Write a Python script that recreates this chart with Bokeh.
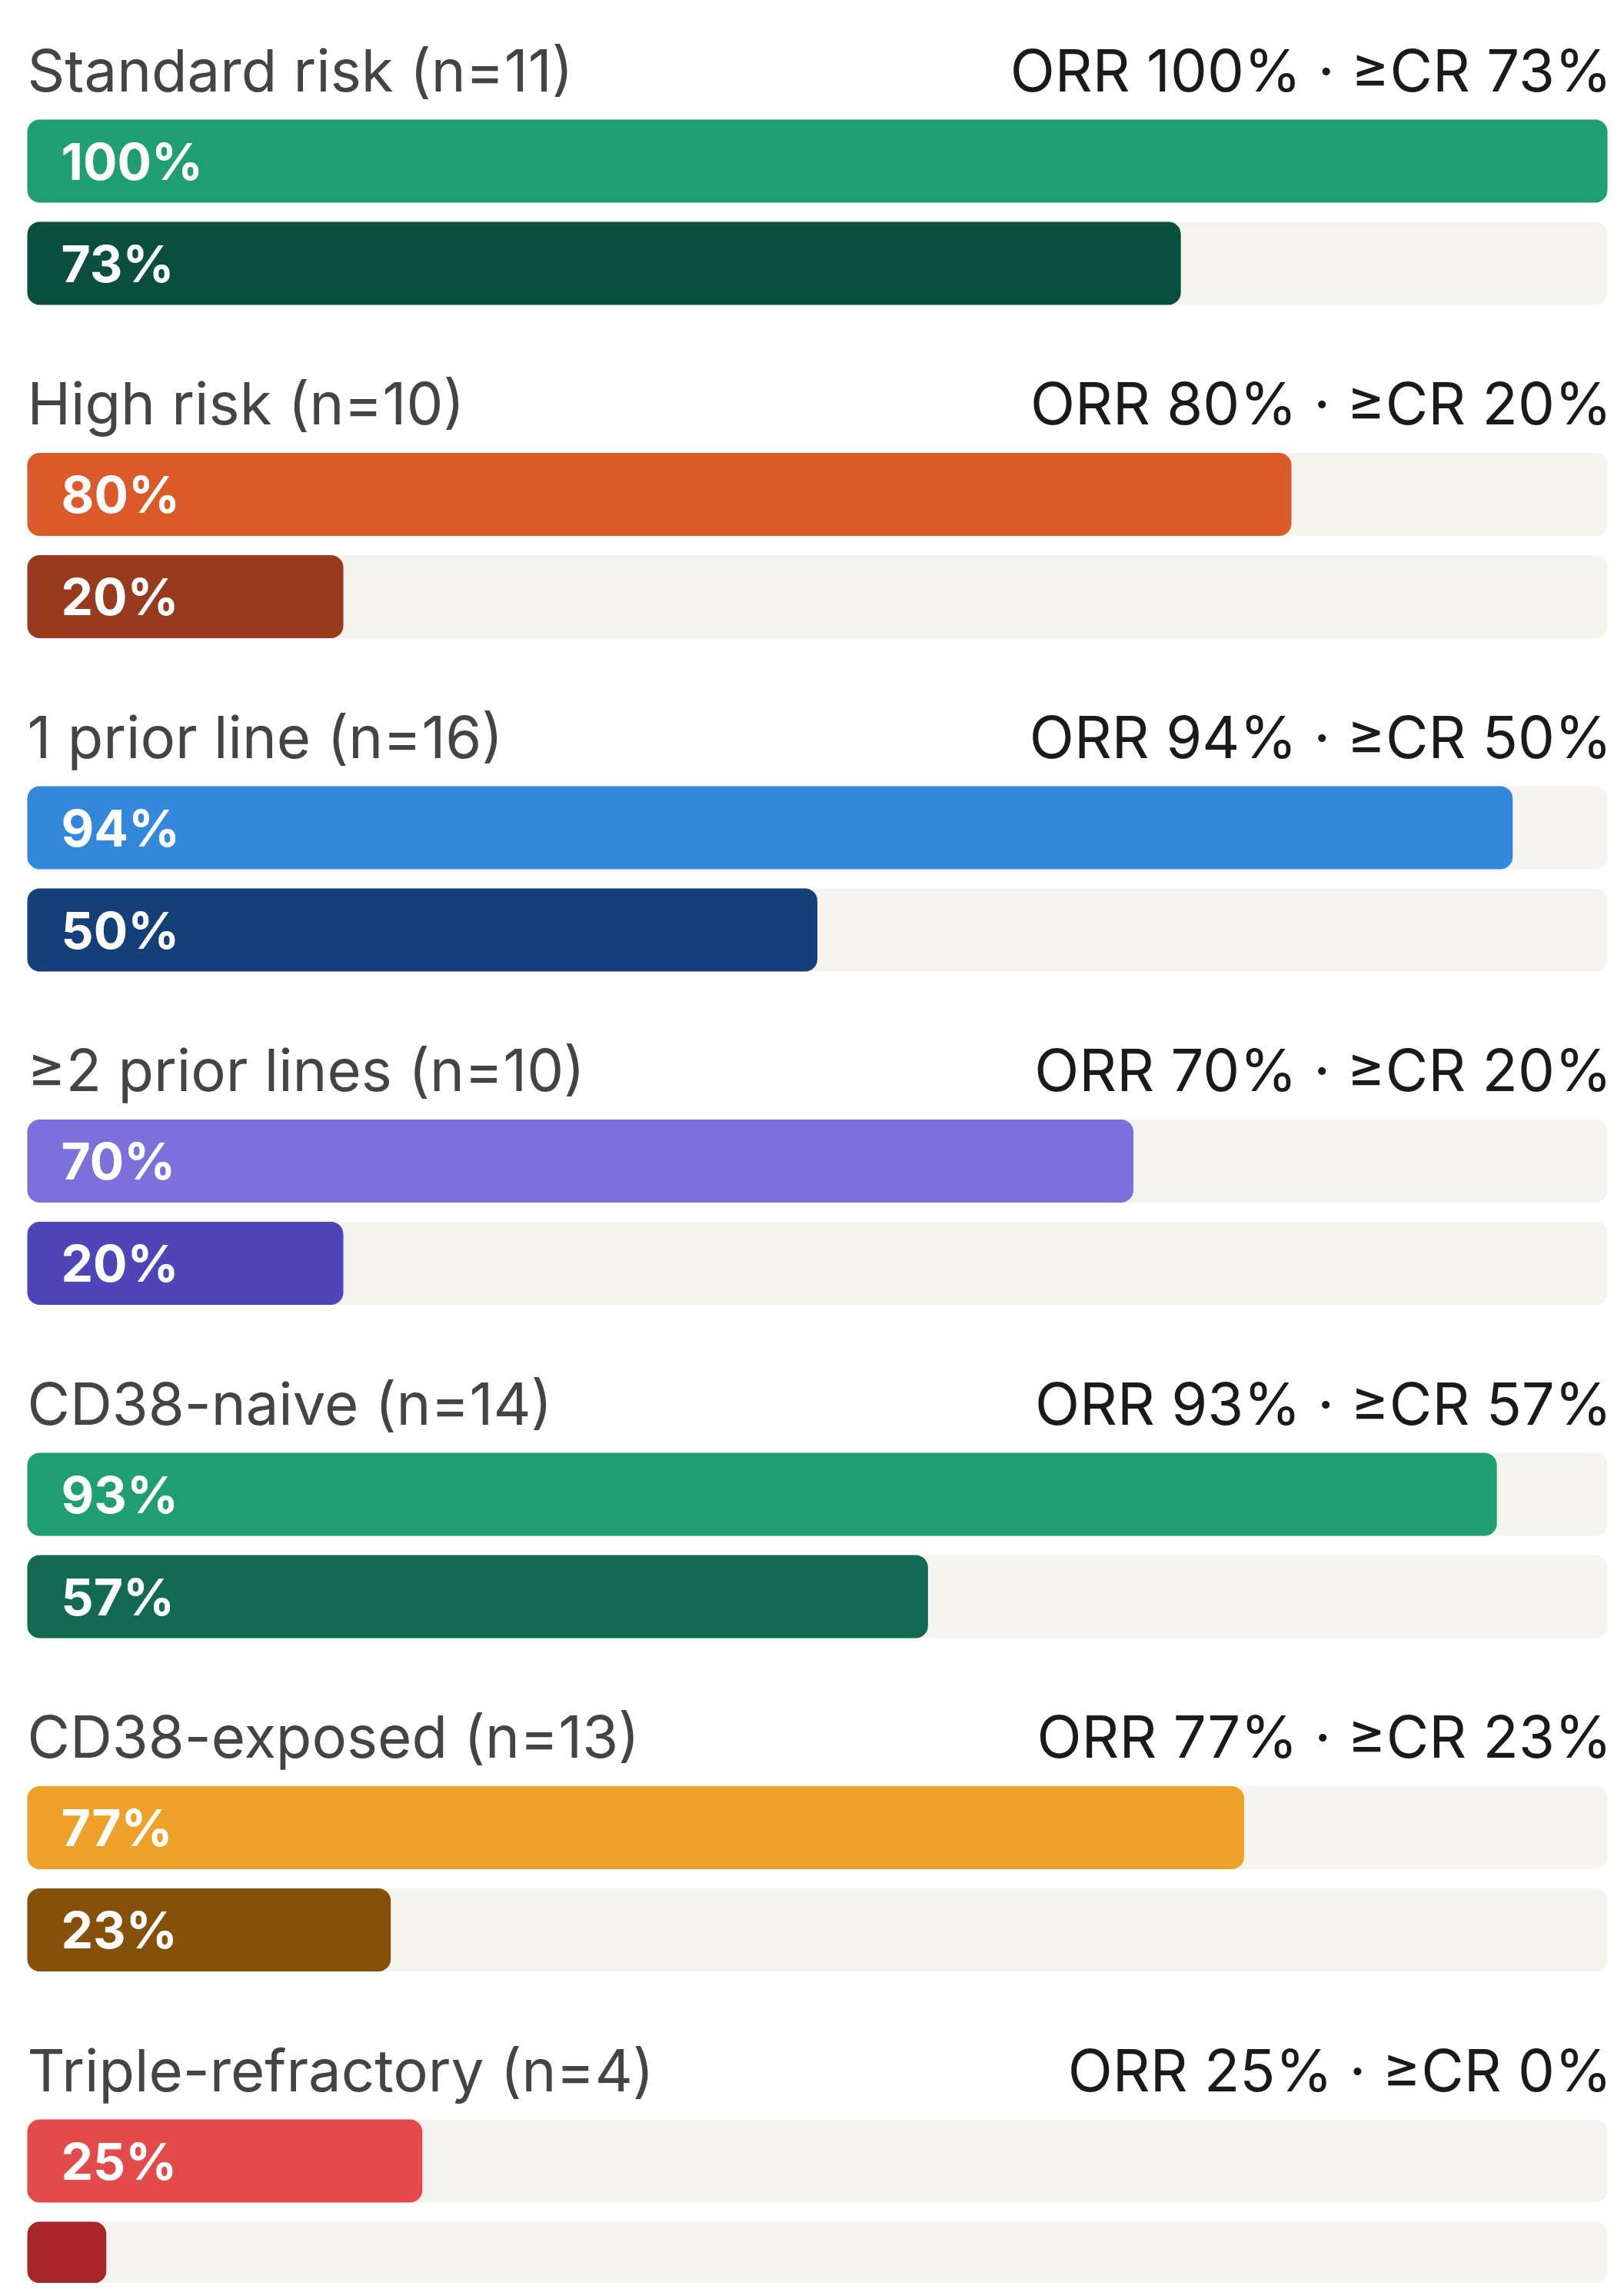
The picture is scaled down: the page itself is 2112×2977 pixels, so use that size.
from bokeh.plotting import figure
from bokeh.models import ColumnDataSource, Range1d
from bokeh.core.properties import value
from bokeh.embed import file_html
from bokeh.resources import INLINE

# ---- data ----
groups = ["Standard risk", "High risk", "1 prior line", "≥2 prior lines",
          "CD38-naive", "CD38-exposed", "Triple-refractory"]
n_pts = [11, 10, 16, 10, 14, 13, 4]
orr = [100, 80, 94, 70, 93, 77, 25]
cr = [73, 20, 50, 20, 57, 23, 0]
orr_colors = ["#1f9e74", "#dc5a2a", "#3488dc", "#7d70dd", "#1f9e74", "#eea128", "#e34a4a"]
cr_colors = ["#0a4f3e", "#983a1e", "#143f78", "#4f45b8", "#136a53", "#855008", "#a8252a"]

# ---- layout (pixel units; y grows downward) ----
W, H = 2096, 2969
X0_PX, X100_PX = 35, 2090
scale = (X100_PX - X0_PX) / 100.0
PITCH = 433.5
LABEL_BASE = 90
BAR1_C = 209
BAR2_C = 342
BAR_H = 108
MIN_VIS = 5  # minimum visible width for 0% bars

FONT = value("Inter")

p = figure(width=W, height=H, output_backend="svg", toolbar_location=None,
           x_range=Range1d(-X0_PX / scale, 100 + (W - X100_PX) / scale),
           y_range=Range1d(H, 0), min_border=0)
p.axis.visible = False
p.grid.visible = False
p.outline_line_color = None
p.background_fill_color = "white"
p.border_fill_color = "white"

ng = len(groups)
y1 = [BAR1_C + g * PITCH for g in range(ng)]
y2 = [BAR2_C + g * PITCH for g in range(ng)]
ylab = [LABEL_BASE + g * PITCH for g in range(ng)]

# tracks
track = ColumnDataSource(dict(y=y1 + y2, right=[100] * (2 * ng)))
p.hbar(y="y", left=0, right="right", height=BAR_H, source=track,
       fill_color="#f4f3ed", line_color=None, border_radius=16)

# bars
bars = ColumnDataSource(dict(
    y=y1 + y2,
    right=[max(v, MIN_VIS) for v in orr] + [max(v, MIN_VIS) for v in cr],
    color=orr_colors + cr_colors,
))
p.hbar(y="y", left=0, right="right", height=BAR_H, source=bars,
       fill_color="color", line_color=None, border_radius=16)

# in-bar labels
vals = orr + cr
ys = y1 + y2
lab = ColumnDataSource(dict(
    x=[0] * sum(1 for v in vals if v > 0),
    y=[yy for yy, v in zip(ys, vals) if v > 0],
    t=[f"{v}%" for v in vals if v > 0],
))
p.text(x="x", y="y", text="t", source=lab, x_offset=44,
       text_font=FONT, text_font_size="66px", text_font_style="bold",
       text_color="white", text_align="left", text_baseline="middle")

# group labels
gl = ColumnDataSource(dict(
    x=[0] * ng, y=ylab,
    t=[f"{g} (n={n})" for g, n in zip(groups, n_pts)],
))
p.text(x="x", y="y", text="t", source=gl, text_font=FONT,
       text_font_size="76px", text_color="#444444",
       text_align="left", text_baseline="alphabetic")

sl = ColumnDataSource(dict(
    x=[100] * ng, y=ylab,
    t=[f"ORR {a}% · ≥CR {b}%" for a, b in zip(orr, cr)],
))
p.text(x="x", y="y", text="t", source=sl, text_font=FONT, x_offset=6,
       text_font_size="76px", text_color="#1a1a1a",
       text_align="right", text_baseline="alphabetic")

open("out.html", "w").write(file_html(p, INLINE))
